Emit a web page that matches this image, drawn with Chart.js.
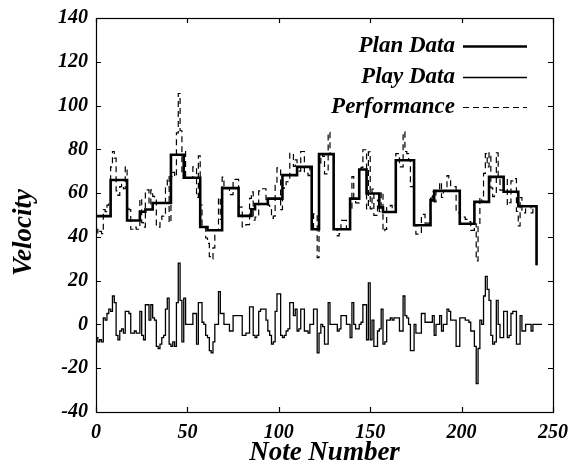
<!DOCTYPE html>
<html><head><meta charset="utf-8">
<script src="https://cdn.jsdelivr.net/npm/chart.js@4/dist/chart.umd.min.js"></script>
<style>html,body{margin:0;padding:0;background:#fff;}canvas{display:block;}</style>
</head><body>
<canvas id="c" width="569" height="468"></canvas>
<script>
// ---- data ----
const xTicks = [0, 50, 100, 150, 200, 250];
const yTicks = [-40, -20, 0, 20, 40, 60, 80, 100, 120, 140];
const seriesNames = ['Plan Data', 'Play Data', 'Performance'];
const xTitle = 'Note Number';
const yTitle = 'Velocity';

// Plan Data: note number where each planned level starts, and its velocity
const planStart = [0,8,17,24,27,31,41,48,57,61,69,78,85,87,94,102,110,118,122,130,139,144,148,155,157,164,174,183,185,199,207,215,223,231,241];
const planVelocity = [49.5,66,47.5,51.5,52.5,55.5,77.5,67,44.5,43,62.3,49.6,52.6,55,57.5,68.2,72,43.5,77.8,43.5,57.5,70.8,59.8,53.5,51.4,75,45.3,56.7,61,46,56,67.4,60.6,54,27];

// Play Data: per-note deviation (note 0..244)
const playDeviation = [
 -6,-8,-7,-8,3,2,5,7,6,13,
 10,-5,-7,-3,-2,-4,6,6,5,-4,
 -4,-3,-4,-4,6,-5,-7,9,9,2,
 9,3,2,-10,-11,-9,-6,-5,7,12,
 -9,-10,-8,-10,10,28,11,-8,12,0,
 0,0,0,5,5,-9,10,10,1,0,
 -5,-6,-12,-13,-8,0,0,15,5,5,
 0,0,0,-3,-3,4,4,4,4,4,
 -5,-5,-4,-4,8,8,-5,-6,-5,6,
 7,7,7,2,-3,-5,-9,-8,6,14,
 14,-5,-6,-5,-3,-2,10,10,4,7,
 -3,-2,7,7,-3,-3,-4,0,0,7,
 7,-13,-4,0,-1,-9,-9,10,0,0,
 0,0,-3,-2,4,4,4,0,0,-6,
 10,0,-2,-2,0,1,9,9,-7,19,
 -7,2,-10,-10,-3,-2,7,-9,-8,2,
 2,3,2,3,3,3,-3,-3,13,4,
 3,0,-12,-12,0,-4,-4,-4,5,5,
 1,1,1,1,4,-5,0,0,4,-3,
 0,0,7,6,2,2,2,-10,-10,3,
 3,3,2,2,1,-3,-3,-10,-27,-11,
 2,0,13,22,16,11,-5,-9,-8,11,
 0,-6,-6,6,6,-6,-5,5,6,6,
 -9,-9,4,-3,-3,0,0,0,-3,0,
 0,0,0,0,0
];

// Performance: per-note velocity (note 0..241)
const performanceVelocity = [
 43.5,41.5,42.5,41.5,52.5,51.5,54.5,56.5,72,79,
 76,61,59,63,64,62,72,53.5,52.5,43.5,
 43.5,44.5,43.5,43.5,57.5,46.5,44.5,61.5,61.5,54.5,
 61.5,58.5,57.5,45.5,44.5,46.5,49.5,50.5,62.5,67.5,
 46.5,67.5,69.5,67.5,87.5,105.5,88.5,69.5,79,67,
 67,67,67,72,72,58,77,54.5,45.5,44.5,
 39.5,37,31,30,35,43,43,58,48,67.3,
 62.3,62.3,62.3,59.3,59.3,66.3,66.3,66.3,53.6,53.6,
 44.6,44.6,45.6,45.6,57.6,60.6,47.6,49,50,61,
 62,62,62,57,54.5,52.5,48.5,49.5,63.5,71.5,
 71.5,52.5,62.2,63.2,65.2,66.2,78.2,78.2,72.2,75.2,
 69,70,79,79,69,69,68,72,43.5,50.5,
 50.5,30.5,73.8,77.8,76.8,68.8,68.8,87.8,77.8,77.8,
 43.5,43.5,40.5,41.5,47.5,47.5,47.5,43.5,43.5,51.5,
 67.5,57.5,55.5,55.5,70.8,71.8,79.8,79.8,52.8,78.8,
 52.8,61.8,49.8,49.8,56.8,51.5,60.5,42.4,43.4,53.4,
 53.4,54.4,53.4,54.4,78,78,72,72,88,79,
 78,75,63,63,45.3,41.3,41.3,41.3,50.3,50.3,
 46.3,46.3,46.3,57.7,60.7,56,61,61,65,58,
 61,61,68,67,63,63,63,51,51,49,
 49,49,48,48,47,43,43,46,29,45,
 58,56,69,78,72,78.4,62.4,58.4,59.4,78.4,
 67.4,61.4,61.4,66.6,66.6,54.6,55.6,65.6,66.6,66.6,
 51.6,45,58,51,51,54,54,54,51,54,
 54,27
];

// ---- chart ----
const FONT = "'Liberation Serif', 'Times New Roman', serif";
const tickFont = {family: FONT, size: 20, style: 'italic', weight: 'bold', lineHeight: 1.2};
const titleFont = {family: FONT, size: 27, style: 'italic', weight: 'bold', lineHeight: 1};

const planPts = planStart.map((x, i) => ({x, y: planVelocity[i]}));
const playPts = playDeviation.map((y, i) => ({x: i, y}));
const perfPts = performanceVelocity.map((y, i) => ({x: i, y}));

const frameAndTicks = {
  id: 'frameAndTicks',
  afterDatasetsDraw(chart) {
    const {ctx, chartArea: a, scales: {x, y}} = chart;
    ctx.save();
    ctx.strokeStyle = '#000';
    ctx.lineWidth = 1.2;
    ctx.strokeRect(a.left + 0.5, a.top + 0.5, a.right - a.left, a.bottom - a.top);
    ctx.beginPath();
    const L = 5;
    xTicks.forEach(v => {
      const px = Math.round(x.getPixelForValue(v)) + 0.5;
      ctx.moveTo(px, a.bottom); ctx.lineTo(px, a.bottom - L);
      ctx.moveTo(px, a.top); ctx.lineTo(px, a.top + L);
    });
    yTicks.forEach(v => {
      const py = Math.round(y.getPixelForValue(v)) + 0.5;
      ctx.moveTo(a.left, py); ctx.lineTo(a.left + L, py);
      ctx.moveTo(a.right, py); ctx.lineTo(a.right - L, py);
    });
    ctx.stroke();
    // y-axis title, placed beside the 60..20 labels as in the reference
    ctx.font = `italic bold 27px ${FONT}`;
    ctx.fillStyle = '#000';
    ctx.textAlign = 'center';
    ctx.textBaseline = 'middle';
    ctx.translate(24, y.getPixelForValue(42));
    ctx.rotate(-Math.PI / 2);
    ctx.fillText(yTitle, 0, 0);
    ctx.restore();
  }
};

const insideLegend = {
  id: 'insideLegend',
  afterDraw(chart) {
    const {ctx} = chart;
    ctx.save();
    ctx.font = `italic bold 23px ${FONT}`;
    ctx.fillStyle = '#000';
    ctx.strokeStyle = '#000';
    ctx.textAlign = 'right';
    ctx.textBaseline = 'middle';
    const rowsY = [46, 77, 107];
    chart.data.datasets.forEach((ds, i) => {
      const yy = rowsY[i];
      ctx.fillText(ds.label, 455, yy);
      ctx.beginPath();
      ctx.lineWidth = ds.borderWidth;
      ctx.setLineDash(ds.borderDash || []);
      ctx.moveTo(463, yy + 0.5);
      ctx.lineTo(527, yy + 0.5);
      ctx.stroke();
    });
    ctx.restore();
  }
};

new Chart(document.getElementById('c'), {
  type: 'line',
  data: {
    datasets: [
      {label: seriesNames[0], data: planPts, stepped: true, borderColor: '#000', borderWidth: 2.6, pointRadius: 0, order: 0},
      {label: seriesNames[1], data: playPts, stepped: true, borderColor: '#000', borderWidth: 1.3, pointRadius: 0, order: 1},
      {label: seriesNames[2], data: perfPts, stepped: true, borderColor: '#000', borderWidth: 1.2, borderDash: [6, 4], pointRadius: 0, order: 2}
    ]
  },
  options: {
    responsive: false,
    animation: false,
    devicePixelRatio: 1,
    layout: {padding: {left: 0, right: 16, top: 18, bottom: 0}},
    plugins: {legend: {display: false}, tooltip: {enabled: false}},
    scales: {
      x: {
        type: 'linear', min: 0, max: 250,
        afterBuildTicks: s => { s.ticks = xTicks.map(v => ({value: v})); },
        afterFit: s => { s.height = 56; s.paddingLeft = 0; s.paddingRight = 0; },
        grid: {display: false, drawTicks: false},
        border: {display: false},
        ticks: {padding: 9, color: '#000', font: tickFont, maxRotation: 0, autoSkip: false},
        title: {display: true, text: xTitle, color: '#000', font: titleFont, padding: {top: 0, bottom: 1}}
      },
      y: {
        type: 'linear', min: -40, max: 140,
        afterBuildTicks: s => { s.ticks = yTicks.map(v => ({value: v})); },
        afterFit: s => { s.width = 96; s.paddingTop = 0; s.paddingBottom = 0; },
        grid: {display: false, drawTicks: false},
        border: {display: false},
        ticks: {padding: 8, color: '#000', font: tickFont, autoSkip: false},
        title: {display: false}
      }
    }
  },
  plugins: [frameAndTicks, insideLegend]
});
</script>
</body></html>
